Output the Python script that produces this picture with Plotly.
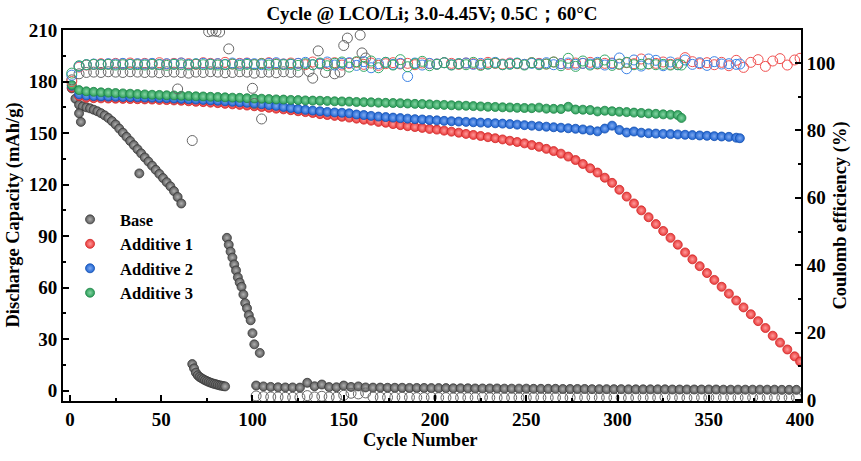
import plotly.graph_objects as go

# ---------------- data ----------------
# cycle numbers (x categories)
cyc_add1 = list(range(1, 398, 4)) + [400]
cyc_add2 = list(range(1, 366, 4)) + [367]
cyc_add3 = list(range(1, 334, 4)) + [335]

cap_add1 = [176.5, 171.5, 170.5, 170.3, 170.2, 170.1, 170.0, 169.9, 169.8, 169.7,
            169.6, 169.5, 169.3, 169.2, 169.0, 168.8, 168.5, 168.2, 168.0, 167.7,
            167.4, 167.0, 166.7, 166.4, 166.0, 165.6, 165.2, 164.7, 164.2, 163.8,
            163.3, 162.7, 162.2, 161.7, 161.0, 160.5, 160.0, 159.5, 159.0, 158.4,
            157.8, 157.2, 156.5, 156.0, 155.2, 154.6, 154.0, 153.5, 153.0, 152.4,
            152.0, 151.4, 150.8, 150.2, 149.5, 148.9, 148.3, 147.6, 147.0, 146.3,
            145.5, 144.8, 144.0, 143.0, 142.0, 140.8, 139.5, 138.0, 136.3, 134.3,
            132.0, 129.5, 127.0, 124.0, 121.0, 117.0, 113.0, 109.0, 105.0, 101.0,
            97.0, 93.0, 89.0, 85.0, 80.5, 76.5, 72.5, 68.5, 64.5, 60.5,
            56.5, 52.5, 48.5, 44.5, 40.5, 36.5, 32.0, 28.0, 24.0, 20.0,
            17.0]
cap_add2 = [177.5, 172.5, 171.8, 171.5, 171.3, 171.2, 171.1, 171.0, 170.9, 170.8,
            170.7, 170.6, 170.4, 170.3, 170.1, 169.9, 169.7, 169.5, 169.3, 169.0,
            168.8, 168.5, 168.2, 167.9, 167.6, 167.2, 166.8, 166.3, 165.8, 165.2,
            164.6, 164.0, 163.5, 163.1, 162.7, 162.3, 162.0, 161.8, 161.5, 160.8,
            160.5, 160.0, 159.6, 159.3, 159.0, 158.7, 158.4, 158.1, 157.9, 157.6,
            157.4, 157.1, 156.9, 156.7, 156.5, 156.3, 156.1, 155.9, 155.7, 155.5,
            155.2, 154.9, 154.6, 154.3, 154.0, 153.7, 153.4, 153.1, 152.8, 152.5,
            152.1, 151.6, 151.0, 152.6, 154.3, 151.8, 150.3, 150.9, 150.2, 149.9,
            149.7, 149.5, 149.4, 149.2, 149.0, 148.8, 148.6, 148.4, 148.2, 148.0,
            147.8, 147.3,
            147.0]
cap_add3 = [178.0, 175.0, 174.3, 174.0, 173.7, 173.5, 173.3, 173.1, 172.9, 172.7,
            172.5, 172.3, 172.2, 172.0, 171.9, 171.7, 171.6, 171.4, 171.3, 171.1,
            171.0, 170.8, 170.6, 170.5, 170.3, 170.1, 170.0, 169.8, 169.6, 169.5,
            169.3, 169.2, 169.0, 168.9, 168.8, 168.7, 168.5, 168.4, 168.3, 168.1,
            168.0, 167.9, 167.7, 167.6, 167.5, 167.4, 167.2, 167.0, 166.9, 166.7,
            166.5, 166.4, 166.2, 166.0, 165.9, 165.7, 165.5, 165.3, 165.2, 165.0,
            164.9, 164.7, 164.6, 164.5, 164.8, 164.2, 164.1, 164.0, 165.3, 163.7,
            163.6, 163.4, 162.6, 163.0, 162.7, 162.4, 162.2, 161.9, 161.7, 161.4,
            161.2, 160.9, 160.7, 160.5,
            158.8]

ce_add1 = [94.5, 98.8, 99.4, 99.6, 99.8, 99.7, 99.9, 99.8, 100.0, 99.7,
           99.9, 99.8, 100.1, 99.7, 99.9, 100.0, 99.8, 99.6, 100.1, 99.9,
           99.8, 100.2, 99.7, 99.9, 100.0, 99.6, 99.9, 100.1, 99.8, 99.7,
           100.0, 99.9, 99.5, 100.3, 99.7, 99.8, 100.1, 99.4, 99.9, 100.2,
           99.6, 100.0, 99.3, 99.8, 100.1, 99.7, 99.9, 99.5, 100.0, 99.8,
           99.7, 100.1, 99.9, 99.6, 100.0, 99.8, 99.5, 100.2, 99.9, 99.7,
           100.0, 99.8, 99.6, 100.1, 99.9, 99.7, 100.3, 99.8, 99.6, 100.0,
           99.9, 100.2, 99.7, 99.9, 100.0, 99.6, 100.1, 99.8, 101.2, 99.7,
           99.9, 100.3, 99.6, 100.0, 101.6, 100.4, 99.8, 100.1, 99.5, 100.2,
           99.2, 100.8, 98.7, 100.2, 101.0, 99.0, 100.6, 101.3, 99.4, 100.9,
           101.4]
ce_add2 = [96.4, 99.0, 99.5, 99.7, 99.6, 99.8, 99.7, 99.9, 99.6, 99.8,
           99.7, 99.9, 99.6, 99.8, 99.7, 100.0, 99.6, 99.8, 99.9, 99.7,
           99.8, 99.6, 100.0, 99.7, 99.9, 99.8, 99.5, 99.9, 100.1, 99.7,
           99.6, 99.9, 100.2, 99.5, 99.8, 100.3, 99.4, 99.9, 100.1, 99.3,
           100.4, 98.6, 99.8, 100.2, 99.6, 99.9, 96.0, 100.0, 99.4, 99.9,
           99.7, 100.1, 99.5, 99.8, 100.0, 99.6, 99.9, 99.7, 100.2, 99.5,
           99.8, 100.0, 99.6, 99.9, 99.7, 100.1, 99.5, 99.8, 100.0, 99.6,
           99.9, 99.7, 100.2, 99.4, 99.8, 101.5, 98.3, 100.9, 99.1, 101.2,
           100.8, 99.2, 100.3, 99.5, 100.9, 99.6, 100.1, 99.3, 100.4, 99.7,
           99.8, 99.6,
           99.7]
ce_add3 = [97.0, 99.2, 99.5, 99.6, 99.5, 99.6, 99.4, 99.5, 99.6, 99.5,
           99.4, 99.6, 99.5, 99.3, 99.6, 99.5, 99.4, 99.7, 99.5, 99.6,
           99.4, 99.5, 99.7, 99.3, 99.6, 99.5, 99.8, 99.4, 99.6, 99.5,
           99.7, 99.3, 99.8, 99.5, 100.0, 99.2, 99.9, 100.3, 98.8, 100.4,
           99.0, 100.6, 98.6, 100.2, 99.4, 101.0, 98.9, 99.8, 100.5, 99.2,
           99.6, 100.1, 99.4, 99.8, 99.5, 100.2, 99.3, 99.7, 100.0, 99.5,
           99.6, 99.9, 99.4, 100.1, 99.5, 99.7, 100.3, 99.2, 101.4, 99.0,
           100.6, 99.4, 99.8, 100.9, 99.3, 99.7, 100.2, 99.5, 99.6, 99.8,
           99.5, 99.6, 99.4, 99.5,
           99.4]

# Base cell: discharge capacity (several segments)
base_cyc = (list(range(1, 62, 2)) + [5, 6, 38] + list(range(67, 86))
            + list(range(86, 102)) + [104] + list(range(102, 399, 4)))
base_cap = ([176.0, 170.0, 166.5, 165.5, 165.0, 164.4, 163.6, 162.7, 161.6, 160.3,
             158.8, 157.0, 155.0, 152.6, 150.2, 147.8, 145.4, 143.0, 140.6, 138.2,
             135.8, 133.4, 131.0, 128.6, 126.2, 123.8, 121.4, 119.0, 116.2, 112.8,
             109.0]
            + [161.5, 156.5, 126.5]
            + [15.5, 13.0, 10.5, 9.0, 8.0, 7.3, 6.7, 6.1, 5.6, 5.1,
               4.7, 4.3, 4.0, 3.7, 3.4, 3.1, 2.9, 2.7, 2.5]
            + [89.0, 85.0, 81.0, 77.5, 73.5, 70.0, 66.0, 63.0, 60.5, 56.0,
               51.0, 48.0, 44.0, 41.0, 33.5, 27.0]
            + [22.0]
            + [3.0, 2.5, 2.2, 2.0, 1.9, 1.9, 1.8, 4.6, 2.6, 3.6,
               2.1, 2.0, 3.0, 2.2, 2.5, 1.9, 1.8, 1.8, 1.7, 1.7,
               1.7, 1.6, 1.6, 1.6, 1.5, 1.5, 1.5, 1.4, 1.4, 1.4,
               1.3, 1.3, 1.3, 1.3, 1.2, 1.2, 1.2, 1.2, 1.1, 1.1,
               1.1, 1.1, 1.0, 1.0, 1.0, 1.0, 0.9, 0.9, 0.9, 0.9,
               0.9, 0.8, 0.8, 0.8, 0.8, 0.8, 0.8, 0.7, 0.7, 0.7,
               0.7, 0.7, 0.7, 0.7, 0.6, 0.6, 0.6, 0.6, 0.6, 0.6,
               0.6, 0.6, 0.5, 0.5, 0.5])

# Base cell: coulombic efficiency
base_ce_cyc = (list(range(1, 126, 4))
               + [59, 67, 76, 78, 80, 82, 87, 100, 101, 105, 131, 133, 136, 140, 145,
                  148, 150, 152, 159, 160, 162]
               + list(range(102, 399, 4)))
base_ce = ([95.0, 96.8, 97.2, 97.3, 97.2, 97.4, 97.3, 97.2, 97.4, 97.3,
            97.2, 97.3, 97.1, 97.4, 97.3, 97.2, 97.0, 97.3, 97.2, 97.4,
            97.3, 97.1, 97.2, 97.4, 97.3, 97.0, 97.2, 97.3, 97.1, 97.4,
            97.2, 97.3]
           + [92.3, 77.0, 109.3, 109.5, 109.4, 109.2, 104.2, 92.5, 88.0, 83.4, 97.5,
              95.5, 103.6, 97.2, 96.8, 97.3, 105.2, 107.4, 108.3, 103.0, 101.5]
           + [1.2, 1.0, 0.9, 0.9, 0.8, 0.8, 0.8, 1.3, 0.9, 1.1,
              0.9, 0.8, 1.4, 2.0, 1.8, 2.1, 0.9, 0.8, 0.8, 0.8,
              0.8, 0.8, 0.7, 0.7, 0.8, 0.7, 0.7, 0.6, 0.7, 0.7,
              0.7, 0.8, 0.7, 0.7, 0.6, 0.7, 0.7, 0.7, 0.8, 0.7,
              0.7, 0.7, 0.6, 0.7, 0.7, 0.7, 0.8, 0.7, 0.7, 0.7,
              0.7, 0.6, 0.7, 0.7, 0.7, 0.7, 0.8, 0.7, 0.7, 0.6,
              0.7, 0.7, 0.7, 0.7, 0.7, 0.8, 0.7, 0.7, 0.7, 0.6,
              0.7, 0.7, 0.7, 0.7, 0.7])

series_names = ["Base", "Additive 1", "Additive 2", "Additive 3"]
x_ticks = [0, 50, 100, 150, 200, 250, 300, 350, 400]
y_ticks = [0, 30, 60, 90, 120, 150, 180, 210]
y2_ticks = [0, 20, 40, 60, 80, 100]

# ---------------- styling ----------------
FONT = "Liberation Serif"
fill_cols = {"Base": "#5a5a5a", "Additive 1": "#e83a3a", "Additive 2": "#1e64d2", "Additive 3": "#2a9e58"}
edge_cols = {"Base": "#3a3a3a", "Additive 1": "#d02828", "Additive 2": "#1550b0", "Additive 3": "#1f8448"}
hi_cols = {"Base": "#b0b0b0", "Additive 1": "#ff9a9a", "Additive 2": "#80aaf0", "Additive 3": "#86d4a4"}
ce_cols = {"Base": "#666666", "Additive 1": "#f05050", "Additive 2": "#3b82e6", "Additive 3": "#34aa66"}

fig = go.Figure()

ce_data = [("Base", base_ce_cyc, base_ce), ("Additive 1", cyc_add1, ce_add1),
           ("Additive 2", cyc_add2, ce_add2), ("Additive 3", cyc_add3, ce_add3)]
for name, xs, ys in ce_data:
    fig.add_trace(go.Scatter(
        x=xs, y=ys, mode="markers", yaxis="y2", showlegend=False, name=name + " CE",
        marker=dict(symbol="circle-open", size=10, color=ce_cols[name], line=dict(width=1))))

cap_data = [("Base", base_cyc, base_cap), ("Additive 1", cyc_add1, cap_add1),
            ("Additive 2", cyc_add2, cap_add2), ("Additive 3", cyc_add3, cap_add3)]
for name, xs, ys in cap_data:
    fig.add_trace(go.Scatter(
        x=xs, y=ys, mode="markers", name=name,
        marker=dict(symbol="circle", size=9, color=fill_cols[name],
                    gradient=dict(type="radial", color=hi_cols[name]),
                    line=dict(width=0.8, color=edge_cols[name]))))

axis_font = dict(family=FONT, size=19, color="black", weight="bold")
title_font = dict(family=FONT, size=18.5, color="black", weight="bold")

fig.update_layout(
    width=861, height=461,
    margin=dict(l=63, r=60, t=30, b=60),
    paper_bgcolor="white", plot_bgcolor="white",
    font=dict(family=FONT, color="black", weight="bold"),
    title=dict(text="Cycle @ LCO/Li; 3.0-4.45V; 0.5C；60°C", x=0.5, xref="paper",
               y=1 - 13 / 461, yref="container", yanchor="middle", xanchor="center",
               font=dict(family=FONT, size=19, color="black", weight="bold")),
    xaxis=dict(range=[-3.8, 400.5], tickvals=x_ticks, ticks="inside", ticklen=6, tickwidth=2,
               tickcolor="black", showline=True, linewidth=2, linecolor="black", mirror=True,
               showgrid=False, zeroline=False, tickfont=axis_font,
               minor=dict(dtick=25, tick0=0, ticks="inside", ticklen=3, tickwidth=2, tickcolor="black")),
    yaxis=dict(range=[-6, 210], tickvals=y_ticks, ticks="inside", ticklen=6, tickwidth=2,
               tickcolor="black", showline=True, linewidth=2, linecolor="black",
               showgrid=False, zeroline=False, tickfont=axis_font,
               minor=dict(dtick=15, tick0=0, ticks="inside", ticklen=3, tickwidth=2, tickcolor="black")),
    yaxis2=dict(range=[-0.3, 109.8], tickvals=y2_ticks, ticks="inside", ticklen=6, tickwidth=2,
                tickcolor="black", showline=True, linewidth=2, linecolor="black",
                overlaying="y", side="right", showgrid=False, zeroline=False, tickfont=axis_font,
                minor=dict(dtick=10, tick0=0, ticks="inside", ticklen=3, tickwidth=2, tickcolor="black")),
    legend=dict(x=-0.004, y=0.536, xanchor="left", yanchor="top", bgcolor="rgba(0,0,0,0)",
                font=dict(family=FONT, size=16.5, color="black", weight="bold"),
                itemwidth=50, tracegroupgap=0),
    annotations=[
        dict(text="Discharge Capacity (mAh/g)", xref="paper", yref="paper", x=(13 - 63) / 738, y=0.5,
             xanchor="center", yanchor="middle", textangle=-90, showarrow=False, font=title_font),
        dict(text="Coulomb efficiency (%)", xref="paper", yref="paper", x=(840 - 63) / 738, y=0.5,
             xanchor="center", yanchor="middle", textangle=-90, showarrow=False, font=title_font),
        dict(text="Cycle Number", xref="paper", yref="paper", x=(420 - 63) / 738, y=(401 - 440) / 371,
             xanchor="center", yanchor="middle", showarrow=False, font=title_font),
    ],
)

fig.write_html("out.html")
